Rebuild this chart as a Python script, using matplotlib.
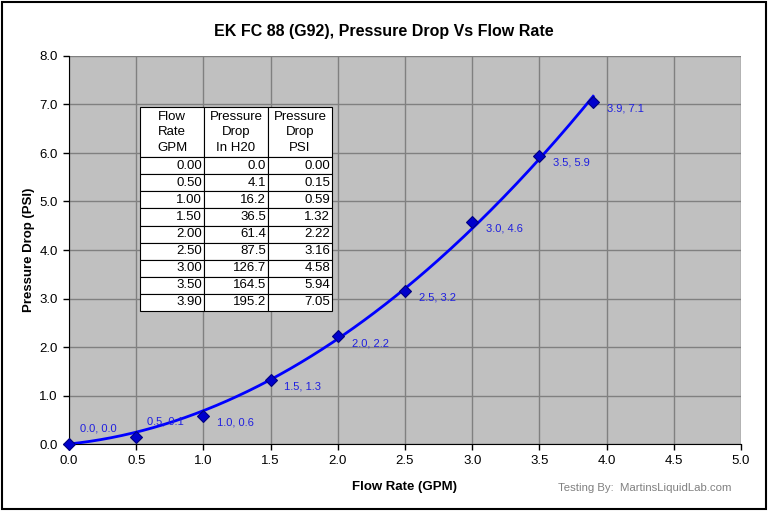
import numpy as np
import matplotlib.pyplot as plt
from matplotlib.patches import Rectangle

# --- DATA ---
flow_gpm = [0.0, 0.5, 1.0, 1.5, 2.0, 2.5, 3.0, 3.5, 3.9]
drop_inh2o = [0.0, 4.1, 16.2, 36.5, 61.4, 87.5, 126.7, 164.5, 195.2]
INH2O_PER_PSI = 27.68
drop_psi = [v / INH2O_PER_PSI for v in drop_inh2o]

x_ticks = np.arange(0, 5.01, 0.5)
y_ticks = np.arange(0, 8.01, 1.0)

plt.rcParams['font.family'] = ['Liberation Sans', 'DejaVu Sans']

fig = plt.figure(figsize=(7.68, 5.11), dpi=100)
ax = fig.add_axes([69 / 768, 67 / 511, 672 / 768, 388 / 511])
ax.set_facecolor('#C0C0C0')

# trendline: quadratic through the origin, least squares on the data
fx = np.array(flow_gpm)
A = np.column_stack([fx ** 2, fx])
coef, *_ = np.linalg.lstsq(A, np.array(drop_psi), rcond=None)
xs = np.linspace(0, max(flow_gpm), 200)
ax.plot(xs, coef[0] * xs ** 2 + coef[1] * xs, color='#0000FF', lw=2, zorder=3)
ax.plot(flow_gpm, drop_psi, linestyle='none', marker='D', ms=6.5,
        mfc='#0000CC', mec='#000080', mew=0.8, zorder=4, clip_on=False)

# data labels
for i, (x, y) in enumerate(zip(flow_gpm, drop_psi)):
    if i < 2:
        off = (8, 11)
    else:
        off = (10, -5)
    ax.annotate(f'{x:.1f}, {y:.1f}', (x, y), xytext=off, textcoords='offset points',
                fontsize=8, color='#1F1FE0', ha='left', va='center', zorder=5)

ax.set_xlim(0, 5)
ax.set_ylim(0, 8)
ax.set_xticks(x_ticks)
ax.set_yticks(y_ticks)
ax.set_xticklabels([f'{v:.1f}' for v in x_ticks])
ax.set_yticklabels([f'{v:.1f}' for v in y_ticks])
ax.grid(True, color='#808080', lw=1)
ax.set_axisbelow(True)
ax.tick_params(direction='out', length=4, width=1, labelsize=9.5, pad=4)
for s in ['top', 'right']:
    ax.spines[s].set_visible(False)
for s in ['left', 'bottom']:
    ax.spines[s].set_color('black')

ax.set_xlabel('Flow Rate (GPM)', fontsize=9.5, fontweight='bold', labelpad=10)
ax.set_ylabel('Pressure Drop (PSI)', fontsize=9.5, fontweight='bold', labelpad=3)
fig.text(0.5, 1 - 31 / 511, 'EK FC 88 (G92), Pressure Drop Vs Flow Rate',
         ha='center', va='center', fontsize=11.5, fontweight='bold')

# table
headers = ['Flow\nRate\nGPM', 'Pressure\nDrop\nIn H20', 'Pressure\nDrop\nPSI']
rows = [[f'{f:.2f}', f'{h:.1f}', f'{p:.2f}'] for f, h, p in zip(flow_gpm, drop_inh2o, drop_psi)]
tbl = ax.table(cellText=rows, colLabels=headers, cellLoc='right',
               bbox=[71 / 672, 133 / 388, 192 / 672, 204 / 388], zorder=6)
tbl.auto_set_font_size(False)
tbl.set_fontsize(9.5)
for (r, c), cell in tbl.get_celld().items():
    cell.set_facecolor('white')
    cell.set_edgecolor('black')
    cell.set_linewidth(0.8)
    cell.PAD = 0.03
    if r == 0:
        cell.set_height(50 / 388)
        cell.get_text().set_ha('center')
        cell.get_text().set_linespacing(1.4)
        cell._loc = 'center'
    else:
        cell.set_height(17 / 388)

fig.text(732 / 768, 1 - 488 / 511, 'Testing By:  MartinsLiquidLab.com', ha='right', va='center',
         fontsize=8.2, color='#808080')

fig.patches.append(Rectangle((0.002, 0.004), 0.995, 0.993, transform=fig.transFigure,
                             fill=False, edgecolor='black', lw=1.5))

fig.savefig('out.png', dpi=100)
